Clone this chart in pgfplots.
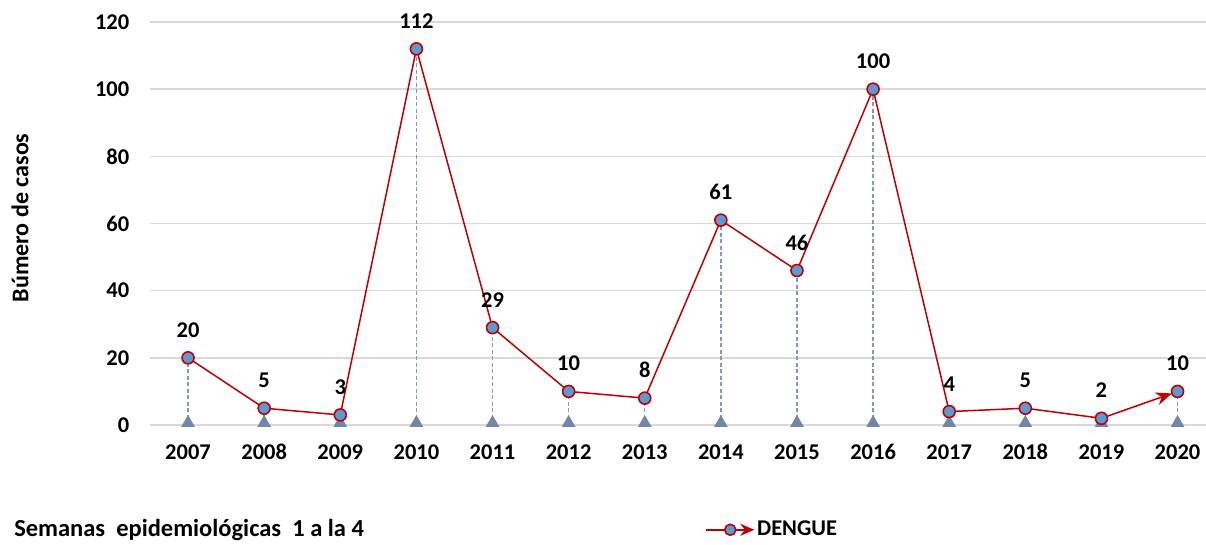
\documentclass[border=0pt]{standalone}
\usepackage{fontspec}
\setmainfont{Carlito}
\usepackage{pgfplots}
\usepackage{pgfplotstable}
\pgfplotsset{compat=1.18}
\usetikzlibrary{arrows.meta}
\definecolor{dred}{HTML}{C00000}
\definecolor{mblue}{HTML}{5B9BD5}
\definecolor{dropc}{HTML}{8497C0}
\definecolor{tric}{HTML}{7086AA}
\definecolor{gridc}{HTML}{D9D9D9}
\pgfplotstableread{
x y
0 20
1 5
2 3
3 112
4 29
5 10
6 8
7 61
8 46
9 100
10 4
11 5
12 2
13 10
}\data
\begin{document}
\fontsize{22.5}{27}\selectfont\bfseries
\begin{tikzpicture}
\path[use as bounding box] (-150pt,-119pt) rectangle (1056pt,425pt);
\begin{axis}[
  scale only axis, width=1058pt, height=403pt,
  xmin=-0.5, xmax=13.4, ymin=0, ymax=120,
  xtick={0,...,13},
  xticklabels={2007,2008,2009,2010,2011,2012,2013,2014,2015,2016,2017,2018,2019,2020},
  ytick={0,20,...,120},
  axis line style={draw=none},
  tick style={draw=none},
  major tick length=0pt,
  ymajorgrids, grid style={gridc, line width=1.5pt},
  /pgf/number format/assume math mode=true,
  xticklabel style={text height=14pt, text depth=0pt, inner sep=0pt, yshift=-20pt},
  yticklabel style={xshift=-13pt},
  clip=false,
  legend style={draw=none, fill=none, at={(rel axis cs:0.522,-0.26)}, anchor=west, legend cell align=left},
]
\addplot[dred, line width=1.5pt, -{Stealth[length=16pt,width=13pt]}, shorten >=6pt, forget plot] table {\data};
\addplot[ycomb, dash pattern=on 4pt off 2.5pt, dropc, line width=1.5pt, forget plot] table {\data};
\addplot[only marks, mark=triangle*, mark size=7.5pt, tric, mark options={yshift=2pt}, forget plot] coordinates {
(0,0) (1,0) (2,0) (3,0) (4,0) (5,0) (6,0) (7,0) (8,0) (9,0) (10,0) (11,0) (12,0) (13,0)};
\addplot[only marks, mark=*, mark size=6pt, mark options={fill=mblue, draw=dred, line width=1.6pt},
  nodes near coords, every node near coord/.append style={yshift=12pt, black},
  legend image code/.code={
    \draw[dred, line width=1.6pt, -{Stealth[length=14pt,width=12pt]}] (0pt,0pt) -- (48pt,0pt);
    \draw[dred, fill=mblue, line width=1.6pt] (24pt,0pt) circle (5.5pt);
  }] table {\data};
\addlegendentry{DENGUE}
\node[anchor=west, inner sep=0pt, font=\fontsize{24.5}{28}\selectfont\bfseries] at (rel axis cs:-0.1285,-0.26) {Semanas\ \ epidemiológicas\ \ 1 a la 4};
\node[rotate=90, font=\fontsize{24}{28}\selectfont\bfseries] at (rel axis cs:-0.1229,0.514) {Búmero de casos};
\end{axis}
\end{tikzpicture}
\end{document}
